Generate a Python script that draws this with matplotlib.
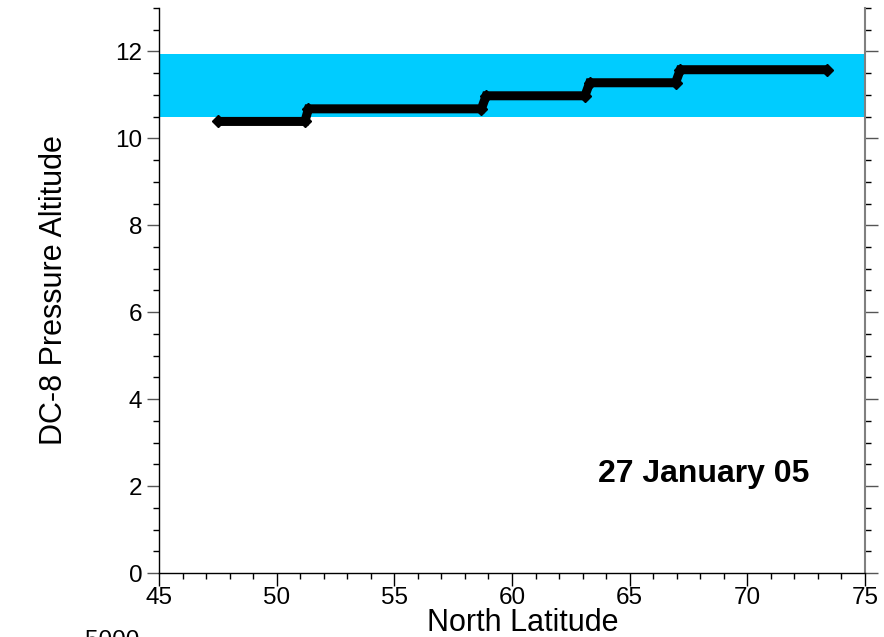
import matplotlib
matplotlib.use("Agg")
import matplotlib.pyplot as plt
from matplotlib.ticker import MultipleLocator

plt.rcParams['font.family'] = ['Liberation Sans', 'DejaVu Sans']

# Flight track vertices (latitude, pressure altitude km)
latitude = [47.5, 51.2, 51.35, 58.7, 58.9, 63.1, 63.3, 66.95, 67.15, 73.4]
altitude = [10.39, 10.39, 10.68, 10.68, 10.98, 10.98, 11.28, 11.28, 11.58, 11.58]

band_low, band_high = 10.5, 11.95
xlim = (45, 75)
ylim = (0, 13)
date_label = "27 January 05"

fig = plt.figure(figsize=(8.84, 6.37), dpi=100)
ax = fig.add_axes([159/884, 1-573/637, (865-159)/884, (573-8)/637])

ax.axhspan(band_low, band_high, color='#00CCFF', lw=0, zorder=1)
ax.plot(latitude, altitude, color='black', lw=6.5, marker='D', ms=6.5,
        solid_capstyle='butt', solid_joinstyle='miter', zorder=3)

ax.set_xlim(*xlim)
ax.set_ylim(*ylim)
ax.xaxis.set_major_locator(MultipleLocator(5))
ax.xaxis.set_minor_locator(MultipleLocator(1))
ax.yaxis.set_major_locator(MultipleLocator(2))
ax.yaxis.set_minor_locator(MultipleLocator(0.5))

ax.spines['top'].set_visible(False)
ax.spines['right'].set_color('#808080')
ax.spines['right'].set_linewidth(1.5)
ax.spines['left'].set_linewidth(1.0)
ax.spines['bottom'].set_linewidth(1.0)

ax.tick_params(which='both', direction='out', right=True, top=False,
               labelsize=17.5)
ax.tick_params(axis='y', pad=3)
ax.tick_params(axis='x', pad=1)
ax.tick_params(which='major', length=9, width=1.0)
ax.tick_params(which='minor', length=4.5, width=1.0)
ax.tick_params(axis='y', which='major', color='#555555')

ax.set_ylabel("DC-8 Pressure Altitude", fontsize=22)
ax.yaxis.set_label_coords(-0.127, 0.50)
ax.set_xlabel("North Latitude", fontsize=22)
ax.xaxis.label.set_va('baseline')
ax.xaxis.set_label_coords((523-159)/706, -(631-573)/565)

ax.text(63.66, 2.1, date_label, fontsize=23, fontweight='bold',
        ha='left', va='baseline', zorder=4)

fig.text(85/884, (637-647)/637, "5000", fontsize=17.5, ha='left', va='baseline')

fig.savefig("out.png", dpi=100)
